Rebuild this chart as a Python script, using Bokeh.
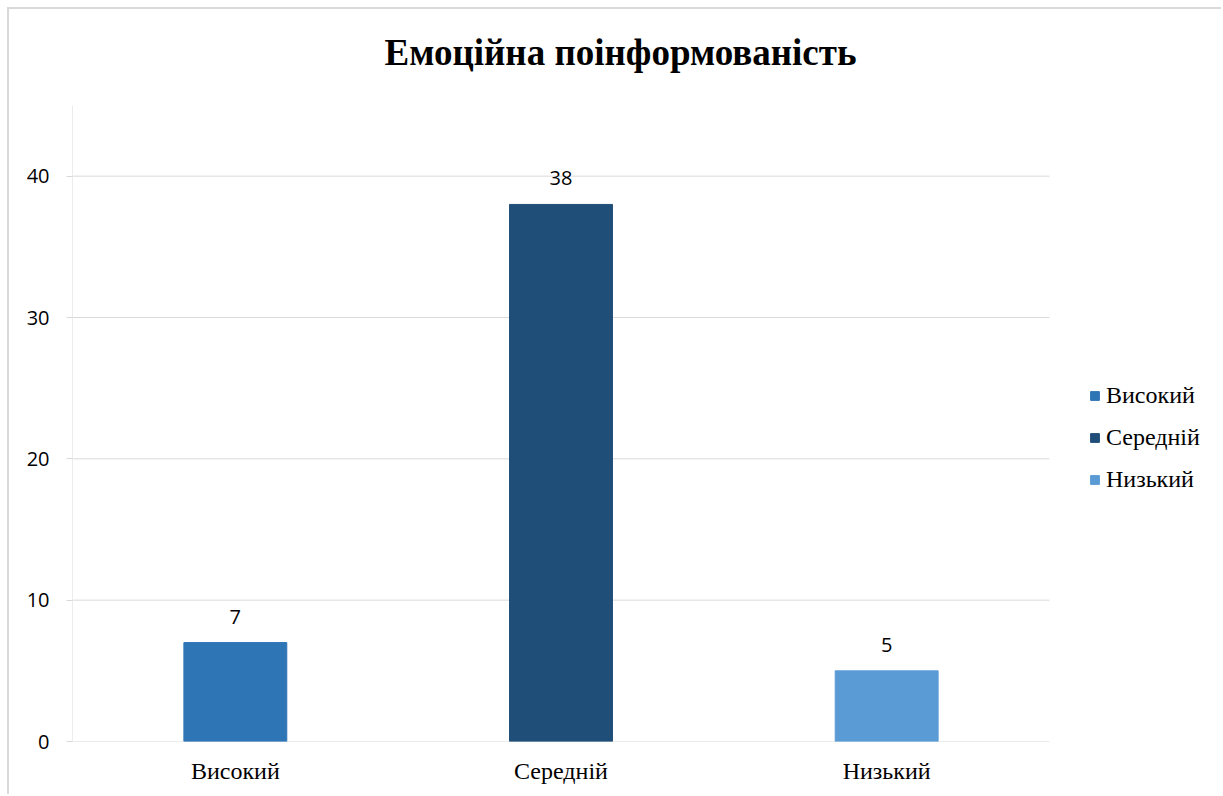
from bokeh.plotting import figure
from bokeh.models import (ColumnDataSource, FixedTicker, Legend,
                          LegendItem, Range1d, Label)
from bokeh.core.properties import value
from bokeh.embed import file_html
from bokeh.resources import INLINE

# ---- data ----
categories = ["Високий", "Середній", "Низький"]
values = [7, 38, 5]
colors = ["#2E75B6", "#1F4E79", "#5B9BD5"]
y_ticks = [0, 10, 20, 30, 40]
y_max = 45
title_text = "Емоційна поінформованість"

idx = list(range(len(categories)))
source = ColumnDataSource(dict(
    x=idx,
    cat=categories,
    val=values,
    color=colors,
    lbl=[str(v) for v in values],
))

# ---- layout (pixels) ----
W, H = 1214, 787
LEFT, BOTTOM = 63, 55
PLOT_W, PLOT_H = 977, 636          # size of the value/category area
FRAME_W = W - LEFT                 # frame reaches the right edge (legend lives there)
FRAME_H = H - BOTTOM               # frame reaches the top edge (title lives there)
x_end = len(categories) - 0.5 + (FRAME_W - PLOT_W) * len(categories) / PLOT_W
y_end = y_max * FRAME_H / PLOT_H

p = figure(
    width=W, height=H,
    x_range=Range1d(-0.5, x_end),
    y_range=Range1d(0, y_end),
    output_backend="svg", toolbar_location=None,
    min_border_left=LEFT, min_border_right=0,
    min_border_top=0, min_border_bottom=BOTTOM,
)
p.styles = {"margin-left": "7px", "margin-top": "7px",
            "border-top": "2px solid #d9d9d9", "border-left": "2px solid #d9d9d9"}
p.outline_line_color = None
p.background_fill_color = "white"
p.border_fill_color = "white"

# horizontal gridlines across the category area only
grid_src = ColumnDataSource(dict(y=y_ticks,
                                 x0=[-0.5] * len(y_ticks),
                                 x1=[len(categories) - 0.5] * len(y_ticks)))
p.segment(x0="x0", x1="x1", y0="y", y1="y", source=grid_src,
          line_color="#d9d9d9", line_width=1)
# value axis line (0 .. y_max)
p.segment(x0=[-0.5], x1=[-0.5], y0=[0], y1=[y_max],
          line_color="#d9d9d9", line_width=1)

r = p.vbar(x="x", top="val", width=0.316, color="color", source=source)

p.text(x="x", y="val", text="lbl", source=source, y_offset=-26,
       text_align="center", text_baseline="middle",
       text_font=value("Open Sans"), text_font_size="20px", text_color="black")

# axes
p.xgrid.visible = False
p.ygrid.visible = False

p.yaxis.ticker = FixedTicker(ticks=y_ticks)
p.yaxis.axis_line_color = None
p.yaxis.major_tick_line_color = "#d9d9d9"
p.yaxis.major_tick_out = 6
p.yaxis.major_tick_in = 0
p.yaxis.minor_tick_line_color = None
p.yaxis.major_label_text_font = "Open Sans"
p.yaxis.major_label_text_font_size = "20px"
p.yaxis.major_label_text_color = "black"
p.yaxis.major_label_standoff = 17

p.xaxis.ticker = FixedTicker(ticks=idx)
p.xaxis.major_label_overrides = {i: c for i, c in zip(idx, categories)}
p.xaxis.axis_line_color = None
p.xaxis.major_tick_line_color = None
p.xaxis.minor_tick_line_color = None
p.xaxis.major_label_text_font = "Liberation Serif"
p.xaxis.major_label_text_font_size = "24px"
p.xaxis.major_label_text_color = "black"
p.xaxis.major_label_standoff = 10

# title (inside the frame, above the value area)
p.add_layout(Label(x=548, y=FRAME_H - 43, x_units="screen", y_units="screen",
                   text=title_text, text_align="center", text_baseline="alphabetic",
                   text_font="Liberation Serif", text_font_style="bold",
                   text_font_size="37px", text_color="black"))

# legend (inside the frame, right of the category area)
items = [LegendItem(label=c, renderers=[r], index=i) for i, c in enumerate(categories)]
legend = Legend(items=items, location=(PLOT_W + 40, 248), margin=0, padding=10,
                glyph_width=11, glyph_height=11, label_standoff=6,
                label_text_font="Liberation Serif", label_text_font_size="24px",
                label_text_color="black", label_height=26, spacing=15,
                border_line_color=None, background_fill_alpha=0)
p.add_layout(legend)

open("out.html", "w").write(file_html(p, INLINE))
